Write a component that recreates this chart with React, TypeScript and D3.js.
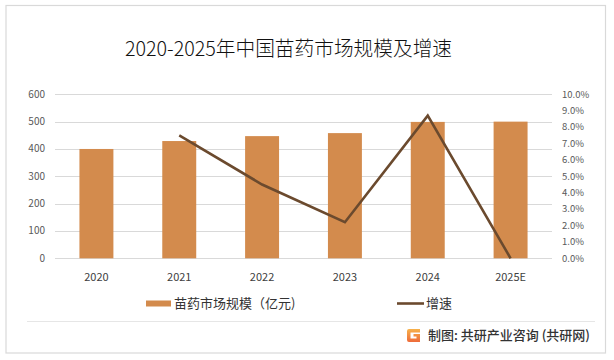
import React from "react";
import * as d3 from "d3";

const categories = ["2020", "2021", "2022", "2023", "2024", "2025E"];
const marketSize = [400, 429, 447, 458, 499, 500];
const growth: (number | null)[] = [null, 0.075, 0.045, 0.022, 0.087, 0.0];
const leftTicks = [0, 100, 200, 300, 400, 500, 600];
const rightTicks = [0, 0.01, 0.02, 0.03, 0.04, 0.05, 0.06, 0.07, 0.08, 0.09, 0.1];
const title = "2020-2025年中国苗药市场规模及增速";
const legendBar = "苗药市场规模（亿元)";
const legendLine = "增速";
const footer = "制图: 共研产业咨询 (共研网)";

const W = 614;
const H = 360;
const plotLeft = 55;
const plotRight = 552;
const plotTop = 94.3;
const plotBottom = 258.3;

const BAR = "#D38B4D";
const LINE = "#6B4A2E";
const GRID = "#D9D9D9";
const FONT = "'Noto Sans CJK SC', 'Noto Sans', sans-serif";

export default function App() {
  const x = d3
    .scaleBand<string>()
    .domain(categories)
    .range([plotLeft, plotRight])
    .paddingInner(0.59)
    .paddingOuter(0.295);
  const yL = d3.scaleLinear().domain([0, 600]).range([plotBottom, plotTop]);
  const yR = d3.scaleLinear().domain([0, 0.1]).range([plotBottom, plotTop]);
  const pct = d3.format(".1%");

  const pts = categories
    .map((c, i) => ({ c, v: growth[i] }))
    .filter((d) => d.v !== null) as { c: string; v: number }[];
  const line = d3
    .line<{ c: string; v: number }>()
    .x((d) => (x(d.c) as number) + x.bandwidth() / 2)
    .y((d) => yR(d.v));

  return (
    <svg
      width={W}
      height={H}
      style={{ position: "absolute", left: 0, top: 0, background: "#fff" }}
      fontFamily={FONT}
    >
      <rect x={0} y={0} width={W} height={H} fill="#fff" />
      <rect x={6} y={5.5} width={599.5} height={347.5} fill="none" stroke="#D9D9D9" strokeWidth={1.2} />
      <line x1={27} x2={595} y1={321.5} y2={321.5} stroke="#E6E6E6" strokeWidth={1} />

      <text
        x={125}
        y={56}
        fontSize={20}
        fontWeight={300}
        fill="#111"
        textLength={327}
        lengthAdjust="spacingAndGlyphs"
      >
        {title}
      </text>

      {leftTicks.map((t) => (
        <line
          key={"g" + t}
          x1={plotLeft}
          x2={plotRight}
          y1={Math.round(yL(t)) + 0.5}
          y2={Math.round(yL(t)) + 0.5}
          stroke={GRID}
          strokeWidth={1}
        />
      ))}
      {leftTicks.map((t) => (
        <text
          key={"l" + t}
          x={45}
          y={yL(t)}
          dy="0.35em"
          textAnchor="end"
          fontSize={10}
          fill="#595959"
        >
          {t}
        </text>
      ))}
      {rightTicks.map((t) => (
        <text
          key={"r" + t}
          x={562}
          y={yR(t)}
          dy="0.35em"
          textAnchor="start"
          fontSize={9.5}
          fill="#595959"
        >
          {pct(t)}
        </text>
      ))}

      {categories.map((c, i) => (
        <rect
          key={"b" + c}
          x={x(c)}
          y={yL(marketSize[i])}
          width={x.bandwidth()}
          height={plotBottom - yL(marketSize[i])}
          fill={BAR}
        />
      ))}

      {categories.map((c) => (
        <text
          key={"x" + c}
          x={(x(c) as number) + x.bandwidth() / 2}
          y={277}
          dy="0.35em"
          textAnchor="middle"
          fontSize={11}
          fill="#404040"
        >
          {c}
        </text>
      ))}

      <path d={line(pts) || ""} fill="none" stroke={LINE} strokeWidth={2.6} strokeLinejoin="miter" />

      <rect x={146} y={300.5} width={25} height={6} fill={BAR} />
      <text x={174} y={303.5} dy="0.35em" fontSize={13} fill="#333">
        {legendBar}
      </text>
      <line x1={397} x2={424} y1={303.5} y2={303.5} stroke={LINE} strokeWidth={2.6} />
      <text x={426} y={303.5} dy="0.35em" fontSize={13} fill="#333">
        {legendLine}
      </text>

      <defs>
        <linearGradient id="logoG" x1="0" y1="0" x2="0" y2="1">
          <stop offset="0" stopColor="#F7B24A" />
          <stop offset="1" stopColor="#EE6A3A" />
        </linearGradient>
      </defs>
      <g transform="translate(407,329)">
        <path d="M0,2 Q0,0 2,0 L13,0 L13,3.5 L3.5,3.5 L3.5,9.5 L9.5,9.5 L9.5,7.5 L6.5,7.5 L6.5,5 L13,5 L13,13 L2,13 Q0,13 0,11 Z" fill="url(#logoG)" />
      </g>
      <text x={428} y={335.5} dy="0.35em" fontSize={13} fontWeight={500} fill="#333">
        {footer}
      </text>
    </svg>
  );
}
